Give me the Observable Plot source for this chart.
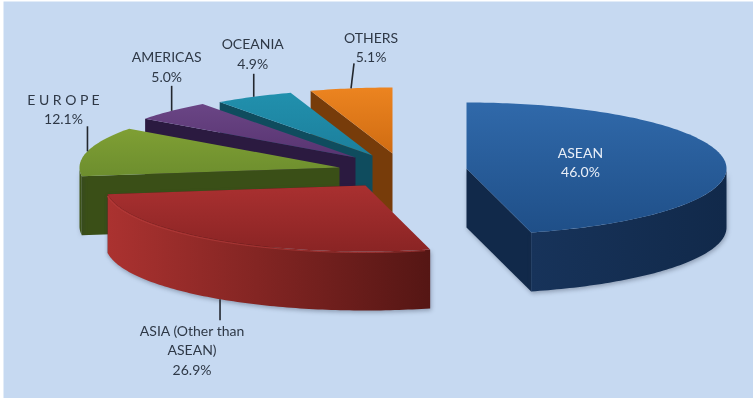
<!DOCTYPE html>
<html><head><meta charset="utf-8">
<script src="https://cdn.jsdelivr.net/npm/d3@7"></script>
<script src="https://cdn.jsdelivr.net/npm/@observablehq/plot@0.6"></script>
<style>html,body{margin:0;padding:0;background:#fff}svg{display:block}</style>
</head><body><div id="chart"></div>
<script>
// Data, clockwise from twelve o'clock
const categories = ["ASEAN", "ASIA (Other than\nASEAN)", "E U R O P E", "AMERICAS", "OCEANIA", "OTHERS"];
const shares = [46.0, 26.9, 12.1, 5.0, 4.9, 5.1];
const shareLabels = ["46.0%", "26.9%", "12.1%", "5.0%", "4.9%", "5.1%"];

// Layout: the tilted, exploded pie
const W = 753, H = 398;
const radiusX = 260, radiusY = 66, depth = 59;
const apexX = [466, 365, 339, 355, 372, 392];
const apexY = [168, 185, 167, 157, 155, 153];
const labelDX = [-144, -28, -24, -5, -1, 20];
const labelDY = [1, 50, -43, -45, -44, -42];
const leaderLen = [0, 21, 25, 25, 23, 25];
const topLight = ["#3069aa", "#a93030", "#7f9f34", "#6a4585", "#2190ad", "#ec8420"];
const topDark = ["#1f4f88", "#8a2424", "#6d8e2e", "#583471", "#1c7f9c", "#d06c12"];
const wallDark = ["#11294a", "#551614", "#3a4f17", "#2b1a40", "#0f4c5e", "#773c0a"];
const wallLight = ["#17335a", "#ab3230", "#3f5519", "#2f1c45", "#114f62", "#7f400b"];
const drawOrder = [5, 4, 3, 2, 1, 0];

const total = d3.sum(shares);
const starts = d3.cumsum([0, ...shares.slice(0, -1)]).map(v => v / total * 360);
const rad = d => d * Math.PI / 180;

const slices = categories.map((name, i) => ({
  i, name,
  t0: starts[i],
  t1: starts[i] + shares[i] / total * 360,
  ax: apexX[i], ay: apexY[i]
}));
const rim = (s, t, drop = 0) => ({
  x: s.ax + radiusX * Math.sin(rad(t)),
  y: s.ay - radiusY * Math.cos(rad(t)) + drop
});
const arc = (s, a, b, drop = 0) => {
  const n = Math.max(2, Math.ceil(Math.abs(b - a)));
  return d3.range(n + 1).map(k => rim(s, a + (b - a) * k / n, drop));
};
const apex = (s, drop = 0) => ({x: s.ax, y: s.ay + drop});

const topFace = s => [apex(s), ...arc(s, s.t0, s.t1)];
// The radial wall that faces the viewer
const radialWall = s => {
  const t = s.t0 >= 180 ? s.t0 : s.t1;
  return [apex(s), rim(s, t), rim(s, t, depth), apex(s, depth)];
};
// The rounded outer wall: only the part of the rim on the near side
const outerWall = s => {
  const a = Math.max(s.t0, 90), b = Math.min(s.t1, 270);
  if (b <= a) return null;
  return [...arc(s, a, b), ...arc(s, b, a, depth)];
};

const xy = {x: "x", y: "y"};
const face = (pts, fill, extra = {}) =>
  Plot.line(pts, {...xy, fill, stroke: "none", curve: "linear", ...extra});

function defs() {
  const svgNS = "http://www.w3.org/2000/svg";
  const d = document.createElementNS(svgNS, "defs");
  const grad = (id, a, b, x2, y2) => {
    const g = document.createElementNS(svgNS, "linearGradient");
    g.setAttribute("id", id);
    g.setAttribute("x1", 0); g.setAttribute("y1", 0);
    g.setAttribute("x2", x2); g.setAttribute("y2", y2);
    [[0, a], [1, b]].forEach(([o, c]) => {
      const st = document.createElementNS(svgNS, "stop");
      st.setAttribute("offset", o); st.setAttribute("stop-color", c);
      g.appendChild(st);
    });
    d.appendChild(g);
  };
  slices.forEach(s => {
    grad(`top${s.i}`, topLight[s.i], topDark[s.i], 0, 1);
    grad(`wall${s.i}`, wallLight[s.i], wallDark[s.i], 1, 0);
  });
  return d;
}

const marks = [defs, Plot.frame({fill: "#c6d9f1", stroke: "none", insetLeft: 3, insetTop: 1})];
for (const i of drawOrder) {
  const s = slices[i];
  const sh = {imageFilter: "drop-shadow(1px 2px 2px rgba(40,50,70,0.35))"};
  const outer = outerWall(s);
  marks.push(face(radialWall(s), wallDark[i], i < 2 ? sh : {}));
  if (outer) marks.push(face(outer, `url(#wall${i})`, sh));
  marks.push(face(topFace(s), `url(#top${i})`));
  if (i === 1) marks.push(Plot.line(arc({...s, ax: s.ax - 1, ay: s.ay + 1}, s.t0 + 1, s.t1 - 1), {...xy, stroke: "#bb4040", strokeWidth: 1, strokeOpacity: 0.6}));
}

const mid = s => (s.t0 + s.t1) / 2;
const anchors = slices.map(s => {
  const t = mid(s);
  const near = t > 90 && t < 270;
  return rim(s, t, near ? depth : 0);
});
const leaders = slices.filter(s => leaderLen[s.i] > 0).map(s => {
  const a = anchors[s.i];
  const sign = mid(s) > 90 && mid(s) < 270 ? 1 : -1;
  return {x1: a.x, y1: a.y, x2: a.x + (s.i === 5 ? 3 : 0), y2: a.y + sign * leaderLen[s.i]};
});
marks.push(Plot.link(leaders, {x1: "x1", y1: "y1", x2: "x2", y2: "y2", stroke: "#22272e", strokeWidth: 1.6}));

const labels = slices.map(s => ({
  x: anchors[s.i].x + labelDX[s.i],
  y: anchors[s.i].y + labelDY[s.i],
  text: `${s.name}\n${shareLabels[s.i]}`,
  color: s.i === 0 ? "#e8eef7" : "#2e3846"
}));
marks.push(Plot.text(labels, {x: "x", y: "y", text: "text", fill: "color", fontSize: 14, lineHeight: 1.38, lineAnchor: "middle", textAnchor: "middle"}));

const chart = Plot.plot({
  width: W, height: H, margin: 0,
  style: {background: "#fff", fontFamily: "Lato, sans-serif", filter: "blur(0.45px)"},
  x: {domain: [0, W], range: [0, W], axis: null},
  y: {domain: [0, H], range: [0, H], axis: null},
  marks
});
document.getElementById("chart").appendChild(chart);
</script></body></html>
